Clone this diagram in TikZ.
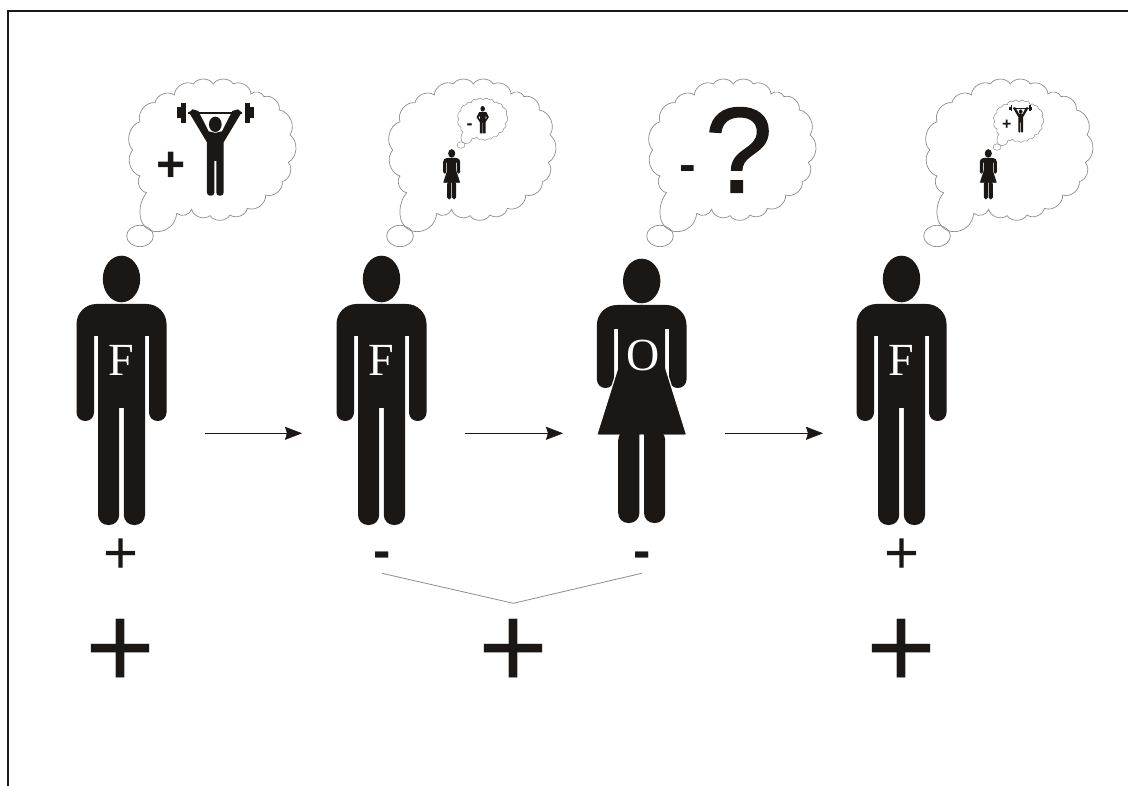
\documentclass[tikz,border=0pt]{standalone}
\usepackage{fontspec}
\setmainfont{Liberation Serif}
\newfontfamily\signfont{Liberation Sans}
\newfontfamily\heavyfont[FakeBold=1]{Liberation Sans}
\usepackage{xcolor}
\definecolor{ink}{HTML}{1A1715}
\definecolor{outline}{HTML}{8C8C8C}
\usetikzlibrary{arrows.meta}
\newcommand{\fsize}[1]{\fontsize{#1}{#1}\selectfont}
\newcommand{\manfig}[3]{\begin{scope}[shift={(#1,#2)},scale=#3]
  \fill[ink] (0,-25) ellipse [x radius=18.7,y radius=23.3];
  \foreach \s in {-1,1} {
    \fill[ink,xscale=\s] (-1,0) [rounded corners=20*#3] -- (45,0) [rounded corners=8.5*#3] -- (45,117) -- (27.5,117) [sharp corners] -- (27.5,32) -- (23.5,32) [rounded corners=10*#3] -- (23.5,221) -- (2.3,221) [sharp corners] -- (2.3,104) -- (-1,104) -- cycle;
  }
\end{scope}}
\newcommand{\womanfig}[3]{\begin{scope}[shift={(#1,#2)},scale=#3]
  \fill[ink] (0,-24) ellipse [x radius=18.7,y radius=22.3];
  \foreach \s in {-1,1} {
    \fill[ink,xscale=\s] (-1,0) [rounded corners=20*#3] -- (44.8,0) [rounded corners=8.5*#3] -- (44.8,83) -- (27.5,83) [sharp corners] -- (27.5,24) -- (-1,24) -- cycle;
    \filldraw[ink,xscale=\s,draw=white,line width=1.2*#3] (0,60) -- (23,60) -- (45,130) -- (0,130) -- cycle;
  }
  \fill[ink] (-23.5,10) -- (23.5,10) -- (23.5,70) -- (43,129.5) -- (-43,129.5) -- (-23.5,70) -- cycle;
  \foreach \s in {-1,1} {
    \fill[ink,xscale=\s] (2.3,125) [rounded corners=10*#3] -- (23.5,125) -- (23.5,218) -- (2.3,218) [sharp corners] -- cycle;
  }
\end{scope}}
\newcommand{\lifterfig}[3]{\begin{scope}[shift={(#1,#2)},scale=#3]
  \fill[ink] (0,34) ellipse [x radius=19,y radius=23];
  \fill[ink] (-81,-3) rectangle (81,3);
  \foreach \s in {-1,1} {
    \begin{scope}[xscale=\s]
      \fill[ink] (88,-31) rectangle (104,31);
      \fill[ink] (104,-17) rectangle (116,16);
      \fill[ink] (-1,60) -- (20,55) -- (51,-6) -- (68,-11) -- (79,-2) -- (25,88) [rounded corners=9*#3] -- (25,248) -- (3,248) [sharp corners] -- (3,144) -- (-1,144) -- cycle;
    \end{scope}
  }
\end{scope}}
\newcommand{\cloudfig}[4]{\begin{scope}[shift={(#1,#2)},scale=#3*.3333]
  \draw[draw=outline,line width=#4,fill=white] (60,498) ellipse [x radius=40,y radius=32];
  \draw[draw=outline,line width=#4] (170,430) .. controls (165,500) and (55,510) .. (60,420) .. controls (62,395) and (70,380) .. (80,368)
    \foreach \a/\b in {60/318,38/240,60/155,105/98,163/75,220/42,280/42,340/42,393/72,432/80,478/120,510/195,505/277,487/335,437/375,382/415,330/435,270/437,215/418,170/430} { to[bend left=58] (\a,\b) };
\end{scope}}
\begin{document}
\begin{tikzpicture}[x=1pt,y=-1pt,
  sign/.style={inner sep=0,text=ink,font=\signfont},
  letter/.style={inner sep=0,text=white,font=\fsize{46}},
  link/.style={draw=outline,line width=.8pt},
  flow/.style={draw=ink,line width=.5pt,-{Stealth[length=17pt,width=13pt,inset=2pt]}}]
  \useasboundingbox (0,0) rectangle (1128,786);
  \draw[ink,line width=2pt] (7.5,786) -- (7.5,11.5) -- (1128,11.5);

  \cloudfig{120}{70}{1}{.7pt}
  \cloudfig{380}{70}{1}{.7pt}
  \cloudfig{640}{70}{1}{.7pt}
  \cloudfig{917}{70}{1}{.7pt}
  \cloudfig{455}{95.3}{.3}{.5pt}
  \cloudfig{991}{97.3}{.3}{.5pt}

  \manfig{121.5}{304}{1}
  \manfig{381.5}{304}{1}
  \womanfig{641.7}{305}{1}
  \manfig{901.5}{304}{1}

  \lifterfig{215.3}{113}{.3333}
  \lifterfig{1020.7}{108.3}{.098}
  \womanfig{451.7}{158}{.19}
  \womanfig{988.3}{158}{.19}
  \begin{scope}[shift={(482.7,106)},scale=.28]
    \fill[ink] (0,10) ellipse [x radius=8,y radius=10];
    \fill[ink] (-13,22) -- (13,22) -- (22,40) -- (10,58) -- (10,98) -- (1,98) -- (1,60) -- (-1,60) -- (-1,98) -- (-10,98) -- (-10,58) -- (-22,40) -- cycle;
    \fill[white] (-10,36) -- (-14,41) -- (-10,47) -- cycle;
    \fill[white] (10,36) -- (14,41) -- (10,47) -- cycle;
  \end{scope}

  \node[letter] (fa) at (121.5,360) {F};
  \node[letter] (fb) at (381.5,360) {F};
  \node[letter] (ob) at (642.7,355.3) {O};
  \node[letter] (fc) at (901.5,360) {F};

  \node[sign,font=\signfont\bfseries\fsize{50}] (pthink) at (170.7,166.5) {+};
  \node[sign,font=\signfont\bfseries\fsize{50}] (mthink) at (688,174) {-};
  \node[sign,font=\heavyfont\fsize{122}] (quest) at (738.8,150) {?};
  \node[sign,font=\signfont\bfseries\fsize{18}] (mtiny) at (469.5,127) {-};
  \node[sign,font=\signfont\bfseries\fsize{16}] (ptiny) at (1006.7,125) {+};

  \node[sign,font=\signfont\fsize{60}] (pa) at (121,555.7) {+};
  \node[sign,font=\signfont\bfseries\fsize{52}] (ma) at (382,560.5) {-};
  \node[sign,font=\signfont\bfseries\fsize{52}] (mb) at (642.3,560.5) {-};
  \node[sign,font=\signfont\fsize{60}] (pb) at (902,555.7) {+};
  \node[sign,font=\signfont\fsize{120}] (ra) at (121,654) {+};
  \node[sign,font=\signfont\fsize{120}] (rb) at (513.3,654) {+};
  \node[sign,font=\signfont\fsize{120}] (rc) at (902,654) {+};

  \coordinate (va) at (382,573.3);
  \coordinate (vb) at (513.3,603.3);
  \coordinate (vc) at (641.7,573.3);
  \draw[link] (va) -- (vb) -- (vc);

  \coordinate (aa) at (205,433.3); \coordinate (ab) at (302,433.3);
  \coordinate (ba) at (465,433.3); \coordinate (bb) at (563,433.3);
  \coordinate (ca) at (725,433.3); \coordinate (cb) at (823,433.3);
  \draw[flow] (aa) -- (ab); \draw[flow] (ba) -- (bb); \draw[flow] (ca) -- (cb);
\end{tikzpicture}
\end{document}
